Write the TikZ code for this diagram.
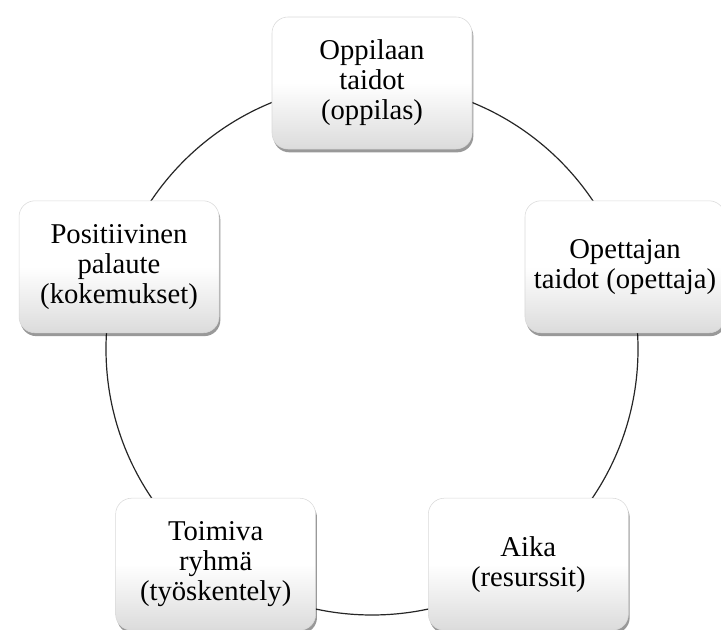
\documentclass[tikz,border=0pt]{standalone}
\usepackage{fontspec}
\setmainfont{Liberation Serif}
\usetikzlibrary{calc,shadows}

\tikzset{
    factor/.style={rectangle, rounded corners=12pt, draw=gray!30, thin,
        top color=white, bottom color=gray!28, middle color=white,
        drop shadow={shadow xshift=1pt, shadow yshift=-2.5pt, opacity=0.4, fill=black},
        minimum width=150pt, minimum height=99pt, align=center,
        font=\fontsize{21.5}{22.5}\selectfont},
    ring/.style={line width=0.9pt, black!85}
}

\begin{document}
\begin{tikzpicture}[x=0.75pt, y=0.75pt]
    \useasboundingbox (0,0) rectangle (721,630);

    % Ring
    \coordinate (mid) at (372,281);
    \draw[ring] (mid) circle (266);

    % Factors
    \foreach \ang/\name/\txt in {90/oppilas/{Oppilaan\\taidot\\(oppilas)},
        18/opettaja/{Opettajan\\taidot (opettaja)},
        -54/aika/{Aika\\(resurssit)},
        234/ryhma/{Toimiva\\ryhmä\\(työskentely)},
        162/palaute/{Positiivinen\\palaute\\(kokemukset)}} {
        \node[factor] (\name) at ($(mid)+(\ang:266)$) {\txt};
    }
\end{tikzpicture}
\end{document}
